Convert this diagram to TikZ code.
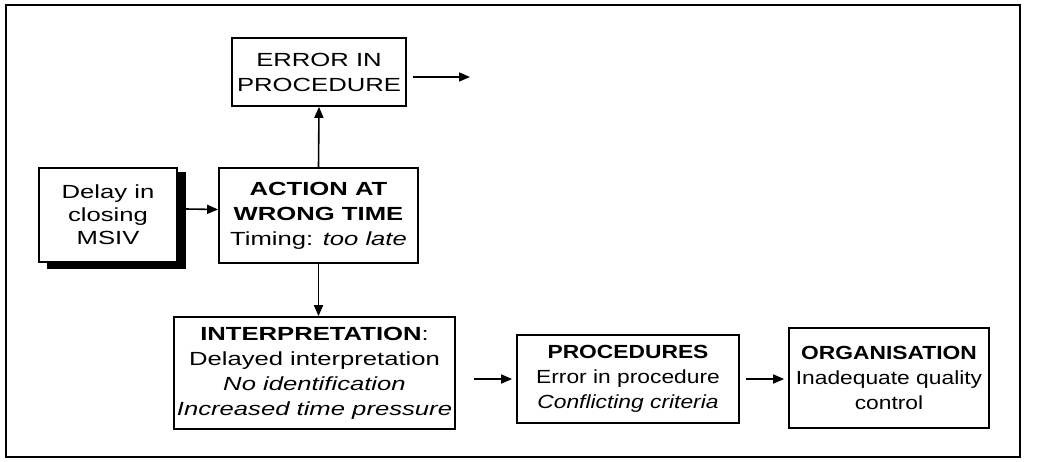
\documentclass[tikz,border=0pt]{standalone}
\usepackage{fontspec}
\setmainfont{Liberation Sans}[FakeStretch=1.35]
\newfontfamily\narrowsf{Liberation Sans}[FakeStretch=1.2]
\usetikzlibrary{arrows.meta,calc}
\begin{document}
\begin{tikzpicture}[x=1pt,y=-1pt,
  box/.style={draw,line width=1.7pt,align=center,inner sep=0pt,
    font=\fontsize{19}{25}\selectfont},
  arr/.style={line width=1.6pt,-{Triangle[length=11pt,width=9pt]}},
  frame/.style={draw,line width=1.8pt}]
\useasboundingbox (0,0) rectangle (1044,461);
\path[frame] (6,5) rectangle (1020,457);

% boxes
\node[box,minimum width=174pt,minimum height=68pt] (err) at (319,72)
  {ERROR IN\\PROCEDURE};
\node[box,minimum width=138pt,minimum height=94pt,
  font=\fontsize{19}{23}\selectfont] (delay) at (108,215)
  {Delay in\\closing\\MSIV};
\node[box,minimum width=199pt,minimum height=95pt] (action) at (318.5,215.5)
  {\textbf{ACTION AT}\\\textbf{WRONG TIME}\\Timing: \textit{too late}};
\node[box,minimum width=281pt,minimum height=112pt] (interp) at (314.5,373)
  {\textbf{INTERPRETATION}:\\Delayed interpretation\\\textit{No identification}\\\textit{Increased time pressure}};
\node[box,minimum width=222pt,minimum height=88pt,
  font=\narrowsf\fontsize{19}{25}\selectfont] (proc) at (628,379)
  {\textbf{PROCEDURES}\\Error in procedure\\\textit{Conflicting criteria}};
\node[box,minimum width=200pt,minimum height=100pt,
  font=\narrowsf\fontsize{19}{25}\selectfont] (org) at (889,378)
  {\textbf{ORGANISATION}\\Inadequate quality\\control};

% drop shadow of the initiating event
\fill ([yshift=-5pt]delay.north east) rectangle ([xshift=8pt,yshift=-6pt]delay.south east);
\fill ([xshift=9pt]delay.south west) rectangle ([xshift=8pt,yshift=-6pt]delay.south east);

% connectors
\coordinate (errout) at (470,77);
\draw[arr] ([xshift=6pt,yshift=-5pt]err.east) -- (errout);
\draw[arr] ([xshift=8pt,yshift=6pt]delay.east) -- ([yshift=6pt]action.west);
\draw[arr] (action.north) -- (err.south);
\draw[arr] (action.south) -- (action.south |- interp.north);
\draw[arr,shorten <=18pt,shorten >=4pt] (interp.east |- proc.west) -- (proc.west);
\draw[arr,shorten <=6pt,shorten >=4pt] (proc.east) -- (org.west |- proc.east);
\end{tikzpicture}
\end{document}
